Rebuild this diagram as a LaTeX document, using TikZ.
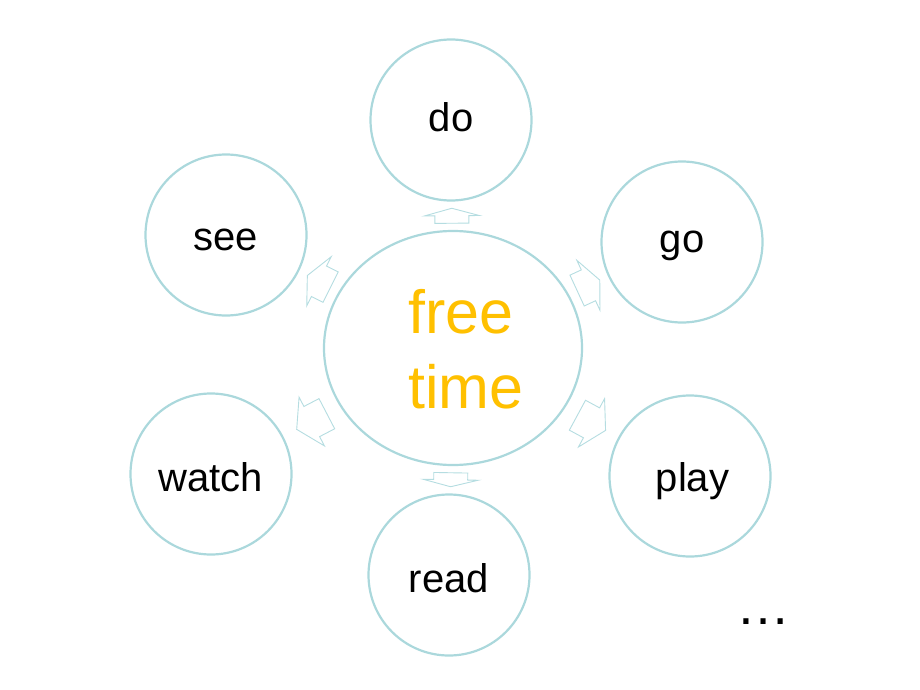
\documentclass[tikz,border=0pt]{standalone}
\usepackage{fontspec}
\setmainfont{Liberation Sans}
\usetikzlibrary{shapes.geometric,calc}
\definecolor{ring}{HTML}{ABD8DC}
\definecolor{arr}{HTML}{B5DDE1}
\definecolor{orng}{HTML}{FFC000}
\newcommand\BlockArrow[3]{%
 \path (#1) -- (#2) coordinate[pos=0.5] (bm);
 \coordinate (bt) at ($(bm)!#3!(#2)$);
 \coordinate (bb) at ($(bm)!-#3!(#2)$);
 \draw[blockarrow] ($(bb)!17pt!90:(#2)$) -- ($(bm)!17pt!90:(#2)$) -- ($(bm)!27.5pt!90:(#2)$) -- (bt) -- ($(bm)!27.5pt!-90:(#2)$) -- ($(bm)!17pt!-90:(#2)$) -- ($(bb)!17pt!-90:(#2)$) -- cycle;
}
\newcommand\Lbl[2]{\raisebox{#1}[\height][\depth]{#2}}
\begin{document}
\begin{tikzpicture}[x=1pt,y=-1pt,
  ringnode/.style={circle, draw=ring, line width=2.2pt, minimum size=161pt, inner sep=0pt, font=\fontsize{40}{46}\selectfont},
  blockarrow/.style={draw=arr, line width=0.9pt, fill=white, line join=miter}]
\useasboundingbox (0,0) rectangle (920,690);
\node[ellipse, draw=ring, line width=2.2pt, minimum width=258pt, minimum height=234pt, inner sep=0pt] (c) at (453,348) {};
\node[font=\fontsize{61}{75}\selectfont, text=orng, align=left, inner sep=0pt] (ft) at (466,349) {free\\time};
\node[ringnode] (do) at (451,120) {\Lbl{3pt}{do}};
\node[ringnode] (go) at (682,242) {\Lbl{-4pt}{go}};
\node[ringnode] (play) at (690,476) {\Lbl{-5pt}{\hspace{5pt}play}};
\node[ringnode] (read) at (449,575) {\Lbl{-3pt}{read}};
\node[ringnode] (watch) at (211,474) {\Lbl{-3pt}{watch}};
\node[ringnode] (see) at (226,235) {\Lbl{-5pt}{see}};
\node[font=\fontsize{54}{60}\selectfont, inner sep=0pt] (dots) at (763,622) {…};
\BlockArrow{c}{do}{7.5pt}
\BlockArrow{c}{go}{12.5pt}
\BlockArrow{c}{play}{16pt}
\BlockArrow{c}{read}{7pt}
\BlockArrow{c}{watch}{17pt}
\BlockArrow{c}{see}{13pt}
\end{tikzpicture}
\end{document}
